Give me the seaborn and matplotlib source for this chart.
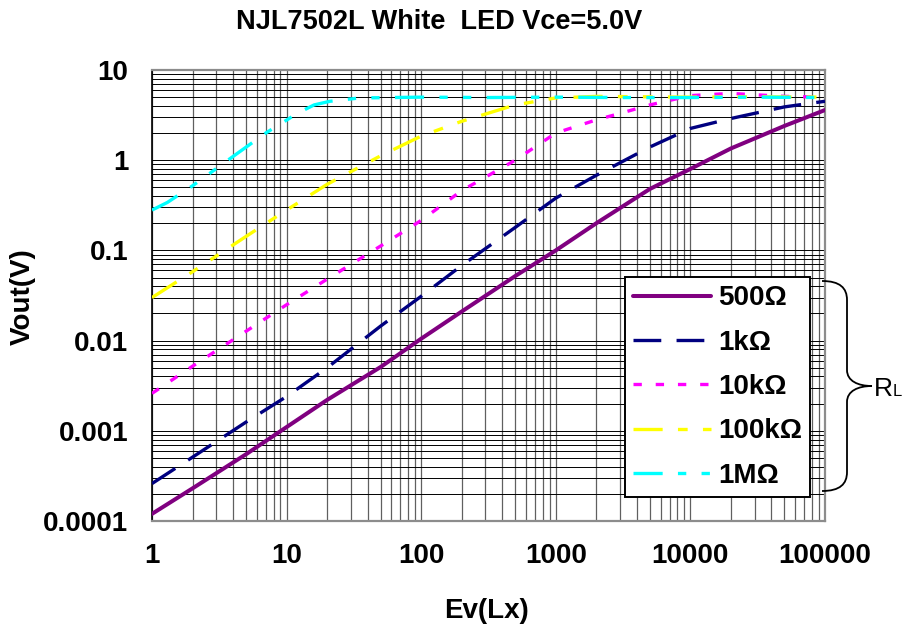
import numpy as np
import pandas as pd
import matplotlib
matplotlib.use("Agg")
import matplotlib.pyplot as plt
import seaborn as sns
from matplotlib.lines import Line2D
from matplotlib.path import Path
from matplotlib.patches import PathPatch
from matplotlib.ticker import NullFormatter, LogLocator, FixedLocator

# ---------------- data ----------------
x_500 = [1, 2, 5, 10, 20, 50, 100, 200, 500, 1000, 2000, 5000, 10000, 20000, 50000, 100000]
y_500 = [1.2e-4, 2.3e-4, 5.5e-4, 1.1e-3, 2.2e-3, 5.1e-3, 1.05e-2, 2.1e-2, 5.2e-2, 0.1, 0.2, 0.48, 0.8, 1.35, 2.4, 3.6]

x_1k = [1, 2, 5, 10, 20, 50, 100, 200, 500, 1000, 2000, 5000, 10000, 20000, 50000, 100000]
y_1k = [2.6e-4, 5.1e-4, 1.25e-3, 2.4e-3, 5.0e-3, 1.45e-2, 3.1e-2, 6.8e-2, 0.18, 0.38, 0.68, 1.4, 2.25, 2.9, 3.9, 4.5]

x_10k = [1, 2, 5, 10, 20, 50, 100, 200, 500, 1000, 2000, 3000, 5000, 10000, 20000, 50000, 100000]
y_10k = [0.0026, 0.0052, 0.0127, 0.025, 0.048, 0.112, 0.215, 0.46, 1.0, 2.0, 2.8, 3.3, 4.1, 5.2, 5.5, 5.1, 5.0]

x_100k = [1, 2, 5, 10, 20, 50, 100, 200, 500, 1000, 2000, 10000, 30000, 100000]
y_100k = [0.03, 0.058, 0.143, 0.28, 0.54, 1.12, 1.85, 2.7, 4.1, 4.9, 5.1, 5.0, 5.05, 5.0]

x_1M = [1, 1.3, 2, 4, 7, 12, 16, 21, 35, 100, 300, 1000, 3000, 10000, 30000, 100000]
y_1M = [0.28, 0.34, 0.52, 1.1, 2.0, 3.3, 4.1, 4.5, 4.9, 5.0, 4.95, 5.0, 4.95, 4.95, 5.0, 4.95]

labels = ["500Ω", "1kΩ", "10kΩ", "100kΩ", "1MΩ"]
xs = [x_500, x_1k, x_10k, x_100k, x_1M]
ys = [y_500, y_1k, y_10k, y_100k, y_1M]

x_ticks = [1, 10, 100, 1000, 10000, 100000]
x_ticklabels = ["1", "10", "100", "1000", "10000", "100000"]
y_ticks = [0.0001, 0.001, 0.01, 0.1, 1, 10]
y_ticklabels = ["0.0001", "0.001", "0.01", "0.1", "1", "10"]

# ---------------- styles ----------------
colors = ["#800080", "#000080", "#FF00FF", "#FFFF00", "#00FFFF"]
widths = [2.9, 2.4, 2.4, 2.4, 2.4]
styles = ["-", (0, (20, 11)), (0, (6, 10)),
          (0, (21, 11, 7, 11, 7, 11)), (0, (21, 11, 6, 11, 6, 11))]

sns.set_style("white")
plt.rcParams["font.family"] = ["Liberation Sans", "DejaVu Sans"]
plt.rcParams["lines.scale_dashes"] = False
for k in ["text.color", "axes.labelcolor", "xtick.color", "ytick.color"]:
    plt.rcParams[k] = "black"

W, H = 917, 628
fig = plt.figure(figsize=(W / 100, H / 100), dpi=100)
L, R, T, B = 152, 825, 70, 521
ax = fig.add_axes([L / W, 1 - B / H, (R - L) / W, (B - T) / H])

frames = []
for lab, xv, yv in zip(labels, xs, ys):
    frames.append(pd.DataFrame({"Ev": xv, "Vout": yv, "RL": lab}))
df = pd.concat(frames, ignore_index=True)

ax.set_xscale("log")
ax.set_yscale("log")
for lab, c, lw, ls in zip(labels, colors, widths, styles):
    sub = df[df["RL"] == lab]
    sns.lineplot(data=sub, x="Ev", y="Vout", ax=ax, color=c, linewidth=lw,
                 linestyle=ls, estimator=None, sort=False, legend=False, zorder=3)

ax.set_xlim(1, 100000)
ax.set_ylim(0.0001, 10)

ax.xaxis.set_major_locator(FixedLocator(x_ticks))
ax.set_xticklabels(x_ticklabels)
ax.yaxis.set_major_locator(FixedLocator(y_ticks))
ax.set_yticklabels(y_ticklabels)
ax.xaxis.set_minor_locator(LogLocator(base=10, subs=np.arange(2, 10), numticks=20))
ax.yaxis.set_minor_locator(LogLocator(base=10, subs=np.arange(2, 10), numticks=20))
ax.xaxis.set_minor_formatter(NullFormatter())
ax.yaxis.set_minor_formatter(NullFormatter())

ax.xaxis.grid(True, which="both", color="#606060", linewidth=0.9, zorder=1)
ax.yaxis.grid(True, which="both", color="#000000", linewidth=0.7, zorder=1)
ax.set_axisbelow(True)

ax.tick_params(axis="x", which="major", direction="in", length=0, pad=16,
               labelsize=20, labelcolor="black")
ax.tick_params(axis="y", which="major", direction="in", length=7, width=1.5,
               color="black", pad=17, labelsize=20, labelcolor="black")
ax.tick_params(which="minor", length=0)
for t in ax.get_xticklabels() + ax.get_yticklabels():
    t.set_fontweight("bold")

for s in ["top", "right", "bottom"]:
    ax.spines[s].set_color("#8c8c8c")
    ax.spines[s].set_linewidth(1.6)
ax.spines["left"].set_color("black")
ax.spines["left"].set_linewidth(1.2)

ax.set_xlabel("Ev(Lx)", fontsize=20, fontweight="bold", color="black")
ax.set_ylabel("Vout(V)", fontsize=20, fontweight="bold", color="black")
ax.xaxis.label.set_va("center")
ax.yaxis.label.set_va("center")
ax.xaxis.set_label_coords((487 - L) / (R - L), (B - 611) / (B - T))
ax.yaxis.set_label_coords((23 - L) / (R - L), (B - 297) / (B - T))

fig.text(439 / W, 1 - 22 / H, "NJL7502L White  LED Vce=5.0V",
         ha="center", va="center", fontsize=19.5, fontweight="bold", color="black")

# legend
handles = [Line2D([0], [0], color=c, linewidth=lw, linestyle=ls)
           for c, lw, ls in zip(colors, widths, styles)]
leg = ax.legend(handles, labels, loc="upper left",
                bbox_to_anchor=(625 / W, 1 - 277 / H), bbox_transform=fig.transFigure,
                prop={"weight": "bold", "size": 20}, frameon=True, fancybox=False,
                edgecolor="black", framealpha=1, handlelength=2.8,
                handletextpad=0.25, labelspacing=0.66, borderpad=0.3,
                borderaxespad=0)
leg.get_frame().set_linewidth(1.4)
leg.set_zorder(10)
for t in leg.get_texts():
    t.set_color("black")

# brace + RL
def P(px, py):
    return (px / W, 1 - py / H)

verts = [P(822, 281), P(840, 281), P(847, 288), P(847, 300),
         P(847, 370),
         P(847, 381), P(858, 386), P(872, 386),
         P(858, 386), P(847, 391), P(847, 402),
         P(847, 472),
         P(847, 484), P(840, 491), P(822, 491)]
codes = [Path.MOVETO, Path.CURVE4, Path.CURVE4, Path.CURVE4,
         Path.LINETO,
         Path.CURVE4, Path.CURVE4, Path.CURVE4,
         Path.CURVE4, Path.CURVE4, Path.CURVE4,
         Path.LINETO,
         Path.CURVE4, Path.CURVE4, Path.CURVE4]
brace = PathPatch(Path(verts, codes), transform=fig.transFigure,
                  facecolor="none", edgecolor="black", linewidth=1.3)
fig.patches.append(brace)
fig.text(874 / W, 1 - 396 / H, "R", fontsize=19, ha="left", va="baseline", color="black")
fig.text(893 / W, 1 - 396 / H, "L", fontsize=12, ha="left", va="baseline", color="black")

fig.savefig("out.png", dpi=100)
